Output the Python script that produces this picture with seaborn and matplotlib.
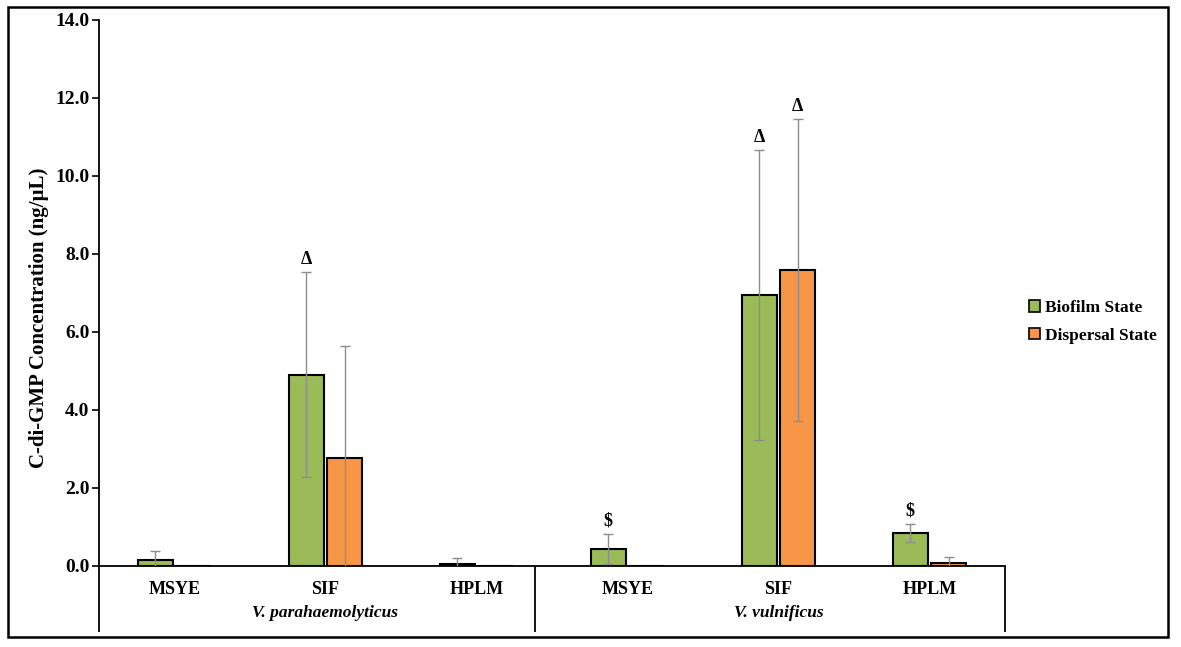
import matplotlib
matplotlib.use("Agg")
import matplotlib.pyplot as plt
import matplotlib.transforms as mtransforms
from matplotlib.patches import Patch, Rectangle
import numpy as np
import pandas as pd
import seaborn as sns

# ---- data ----
media = ["MSYE", "SIF", "HPLM", "MSYE", "SIF", "HPLM"]
species = ["V. parahaemolyticus", "V. vulnificus"]
states = ["Biofilm State", "Dispersal State"]
biofilm_mean = [0.15, 4.90, 0.05, 0.44, 6.95, 0.85]
biofilm_sd = [0.24, 2.63, 0.15, 0.38, 3.72, 0.23]
dispersal_mean = [0.0, 2.77, 0.0, 0.0, 7.58, 0.07]
dispersal_sd = [0.0, 2.86, 0.0, 0.0, 3.87, 0.16]
yticks = [0.0, 2.0, 4.0, 6.0, 8.0, 10.0, 12.0, 14.0]
# significance marks: (category index, state index, symbol)
marks = [(1, 0, "\u0394"), (3, 0, "$"), (4, 0, "\u0394"), (4, 1, "\u0394"), (5, 0, "$")]

cat_ids = [f"{i}" for i in range(len(media))]
df = pd.DataFrame({
    "cat": cat_ids * 2,
    "state": [states[0]] * 6 + [states[1]] * 6,
    "value": biofilm_mean + dispersal_mean,
})
sds = [biofilm_sd, dispersal_sd]
means = [biofilm_mean, dispersal_mean]

sns.set_theme(style="white")
plt.rcParams["font.family"] = ["Liberation Serif", "DejaVu Serif"]
plt.rcParams["font.weight"] = "bold"
plt.rcParams["mathtext.default"] = "regular"
for key in ["text.color", "axes.labelcolor", "xtick.color", "ytick.color"]:
    plt.rcParams[key] = "black"

W, H = 1181, 647
fig = plt.figure(figsize=(W / 100, H / 100), dpi=100)
ax = fig.add_axes([99 / W, 1 - 566 / H, 906 / W, 546 / H])

colors = {"Biofilm State": "#9BBB59", "Dispersal State": "#F79646"}
sns.barplot(data=df, x="cat", y="value", hue="state", order=cat_ids,
            hue_order=states, palette=colors, width=0.51, gap=0.1,
            edgecolor="black", linewidth=1.5, errorbar=None, ax=ax,
            legend=False, saturation=1)

# error bars and significance marks from the bar geometry
containers = list(ax.containers)
for si, cont in enumerate(containers):
    for ci, bar in enumerate(cont):
        xc = bar.get_x() + bar.get_width() / 2
        m = means[si][ci]
        s = sds[si][ci]
        if s > 0:
            ax.errorbar(xc, m, yerr=s, fmt="none", ecolor="#8c8c8c",
                        elinewidth=1.0, capsize=3.5, capthick=1.0, zorder=5)
for ci, si, sym in marks:
    bar = containers[si][ci]
    xc = bar.get_x() + bar.get_width() / 2
    top = means[si][ci] + sds[si][ci]
    ax.annotate(sym.replace("$", r"\$"), (xc, top), xytext=(0, 3),
                textcoords="offset points", ha="center", va="bottom",
                fontsize=13, fontweight="bold", color="black")

ax.set_xlim(-0.5, 5.5)
ax.set_ylim(0, 14)
ax.set_yticks(yticks)
ax.set_yticklabels([f"{v:.1f}" for v in yticks], fontsize=14,
                   fontweight="bold")
ax.set_xticks(range(len(media)))
ax.set_xticklabels(media, fontsize=13, fontweight="bold")
ax.tick_params(axis="x", length=0, pad=11)
ax.tick_params(axis="y", direction="out", length=5, width=1.2, left=True,
               color="black", pad=2)
ax.set_xlabel("")
ax.set_ylabel("C-di-GMP Concentration (ng/\u00b5L)", fontsize=15,
              fontweight="bold")
ax.yaxis.set_label_coords((49 - 99) / 906, (566 - 318) / 546)
for sp in ["top", "right"]:
    ax.spines[sp].set_visible(False)
for sp in ["left", "bottom"]:
    ax.spines[sp].set_color("black")
    ax.spines[sp].set_linewidth(1.3)

# category table lines below axis
trans = mtransforms.blended_transform_factory(ax.transData, ax.transAxes)
y_low = -(632 - 566) / 546
for xv in [-0.5, 2.39, 5.5]:
    ax.plot([xv, xv], [0, y_low], transform=trans, color="black",
            lw=1.3, clip_on=False, solid_capstyle="butt")
for xv, name in [(1, species[0]), (4, species[1])]:
    ax.text(xv, -(613 - 566) / 546, name, transform=trans, ha="center",
            va="center", fontsize=12.5, fontweight="bold", style="italic")

# legend
handles = [Patch(facecolor=colors[s], edgecolor="black", linewidth=1.2, label=s)
           for s in states]
fig.legend(handles=handles, loc="center left",
           bbox_to_anchor=(1022 / W, 1 - 322 / H), frameon=False,
           prop={"family": "Liberation Serif", "weight": "bold", "size": 12.5},
           handlelength=0.65, handleheight=0.65, handletextpad=0.3,
           labelspacing=0.65, borderaxespad=0)

# outer frame
fig.patches.append(Rectangle((8 / W, 1 - 637 / H), (1168 - 8) / W,
                             (637 - 7) / H, transform=fig.transFigure,
                             fill=False, edgecolor="black", lw=1.8))

fig.savefig("out.png", dpi=100)
